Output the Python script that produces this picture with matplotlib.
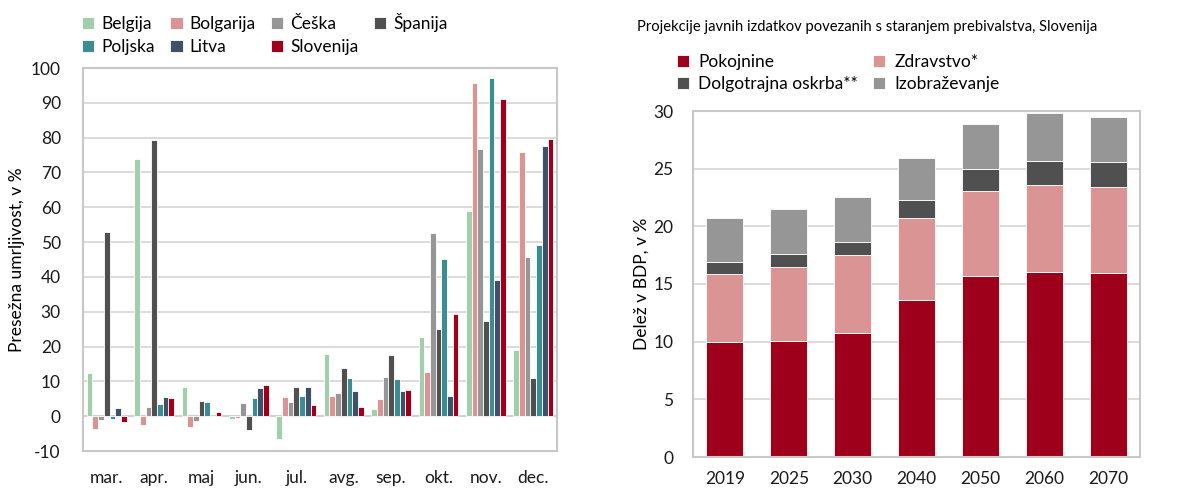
import matplotlib
matplotlib.use("Agg")
import matplotlib.pyplot as plt
import numpy as np

plt.rcParams['font.family'] = ['Lato', 'DejaVu Sans']
plt.rcParams['axes.unicode_minus'] = False

# levi graf - presezna umrljivost
meseci = ["mar.", "apr.", "maj", "jun.", "jul.", "avg.", "sep.", "okt.", "nov.", "dec."]
drzave = ["Belgija", "Bolgarija", "Češka", "Španija", "Poljska", "Litva", "Slovenija"]
barve_drzav = ["#A1CFAB", "#DA9494", "#969696", "#505050", "#3D8C91", "#3F5069", "#9E001C"]

belgija = [12.5, 73.9, 8.3, -0.9, -6.6, 17.9, 2.0, 22.7, 59.0, 18.9]
bolgarija = [-3.8, -2.4, -3.0, -0.5, 5.5, 5.8, 4.9, 12.6, 95.8, 75.9]
ceska = [-1.0, 2.7, -1.5, 3.8, 4.0, 6.8, 11.2, 52.6, 76.8, 45.6]
spanija = [52.9, 79.4, 4.3, -4.1, 8.3, 13.9, 17.5, 25.0, 27.4, 11.0]
poljska = [-0.7, 3.4, 4.1, 5.3, 5.8, 11.0, 10.8, 45.1, 97.2, 49.3]
litva = [2.3, 5.5, 0.0, 8.1, 8.3, 7.2, 7.2, 5.9, 39.0, 77.6]
slovenija = [-1.8, 5.2, 1.3, 9.0, 3.3, 2.6, 7.6, 29.3, 91.1, 79.7]

# desni graf - projekcije izdatkov
leta = ["2019", "2025", "2030", "2040", "2050", "2060", "2070"]
pokojnine = [10.0, 10.05, 10.75, 13.6, 15.7, 16.05, 15.95]
zdravstvo = [5.9, 6.4, 6.75, 7.1, 7.4, 7.55, 7.45]
dolgotrajna = [1.0, 1.15, 1.15, 1.6, 1.85, 2.1, 2.2]
izobrazevanje = [3.8, 3.9, 3.9, 3.6, 3.9, 4.1, 3.9]
kategorije = ["Pokojnine", "Zdravstvo*", "Dolgotrajna oskrba**", "Izobraževanje"]
barve_kat = ["#9E001C", "#DA9494", "#505050", "#969696"]

W, H = 1185, 488
fig = plt.figure(figsize=(W / 100, H / 100), dpi=100)

okvir = "#C8C8C8"
mreza = "#D4D4D4"


def okrasi(ax):
    for s in ax.spines.values():
        s.set_color(okvir)
        s.set_linewidth(1.5)
    ax.tick_params(length=0, labelsize=12.5, colors="#1A1A1A")
    ax.grid(axis="y", color=mreza, linewidth=1.2)
    ax.set_axisbelow(True)


def po_vrsticah(h, l, ncol):
    # matplotlib polni legendo po stolpcih, referenca pa po vrsticah
    nrow = int(np.ceil(len(h) / ncol))
    red = []
    for c in range(ncol):
        for r in range(nrow):
            k = r * ncol + c
            if k < len(h):
                red.append(k)
    return [h[k] for k in red], [l[k] for k in red]


# ---- levi ----
ax1 = fig.add_axes([83 / W, 1 - 451 / H, (557 - 83) / W, (451 - 68) / H])
serije = [belgija, bolgarija, ceska, spanija, poljska, litva, slovenija]
x = np.arange(len(meseci))
sirina = 0.12
for i, (ime, vr, b) in enumerate(zip(drzave, serije, barve_drzav)):
    ax1.bar(x + (i - 3) * sirina, vr, sirina, color=b, edgecolor="white", linewidth=0.6, label=ime)
ax1.axhline(0, color=okvir, linewidth=1.5, zorder=0.5)
ax1.set_xlim(-0.5, len(meseci) - 0.5)
ax1.set_ylim(-10, 100)
ax1.set_yticks(np.arange(-10, 101, 10))
ax1.set_xticks(x)
ax1.set_xticklabels(meseci)
okrasi(ax1)
ax1.tick_params(axis="x", pad=14)
ax1.tick_params(axis="y", pad=16)
ax1.set_ylabel("Presežna umrljivost, v %", fontsize=12.5, labelpad=4)
h, l = po_vrsticah(*ax1.get_legend_handles_labels(), 4)
ax1.legend(h, l, loc="lower left", bbox_to_anchor=(-0.02, 1.012), ncol=4, frameon=False, fontsize=12.5,
           handlelength=0.7, handleheight=0.7, handletextpad=0.4, columnspacing=0.9,
           labelspacing=0.4, borderaxespad=0.1)

# ---- desni ----
ax2 = fig.add_axes([693 / W, 1 - 457 / H, (1140 - 693) / W, (457 - 111) / H])
xs = np.arange(len(leta))
dno = np.zeros(len(leta))
for ime, vr, b in zip(kategorije, [pokojnine, zdravstvo, dolgotrajna, izobrazevanje], barve_kat):
    ax2.bar(xs, vr, 0.58, bottom=dno, color=b, edgecolor="white", linewidth=0.6, label=ime)
    dno = dno + np.array(vr)
ax2.set_xlim(-0.5, len(leta) - 0.5)
ax2.set_ylim(0, 30)
ax2.set_yticks(np.arange(0, 31, 5))
ax2.set_xticks(xs)
ax2.set_xticklabels(leta)
okrasi(ax2)
ax2.tick_params(axis="x", pad=10)
ax2.tick_params(axis="y", pad=14)
ax2.set_ylabel("Delež v BDP, v %", fontsize=12.5, labelpad=3)
h, l = po_vrsticah(*ax2.get_legend_handles_labels(), 2)
ax2.legend(h, l, loc="lower left", bbox_to_anchor=(-0.055, 1.03), ncol=2, frameon=False, fontsize=12.5,
           handlelength=0.7, handleheight=0.7, handletextpad=0.5, columnspacing=0.9,
           labelspacing=0.35, borderaxespad=0.1)
fig.text(867 / W, 1 - 27 / H, "Projekcije javnih izdatkov povezanih s staranjem prebivalstva, Slovenija",
         ha="center", va="center", fontsize=10.6)

fig.savefig("out.png", dpi=100)
